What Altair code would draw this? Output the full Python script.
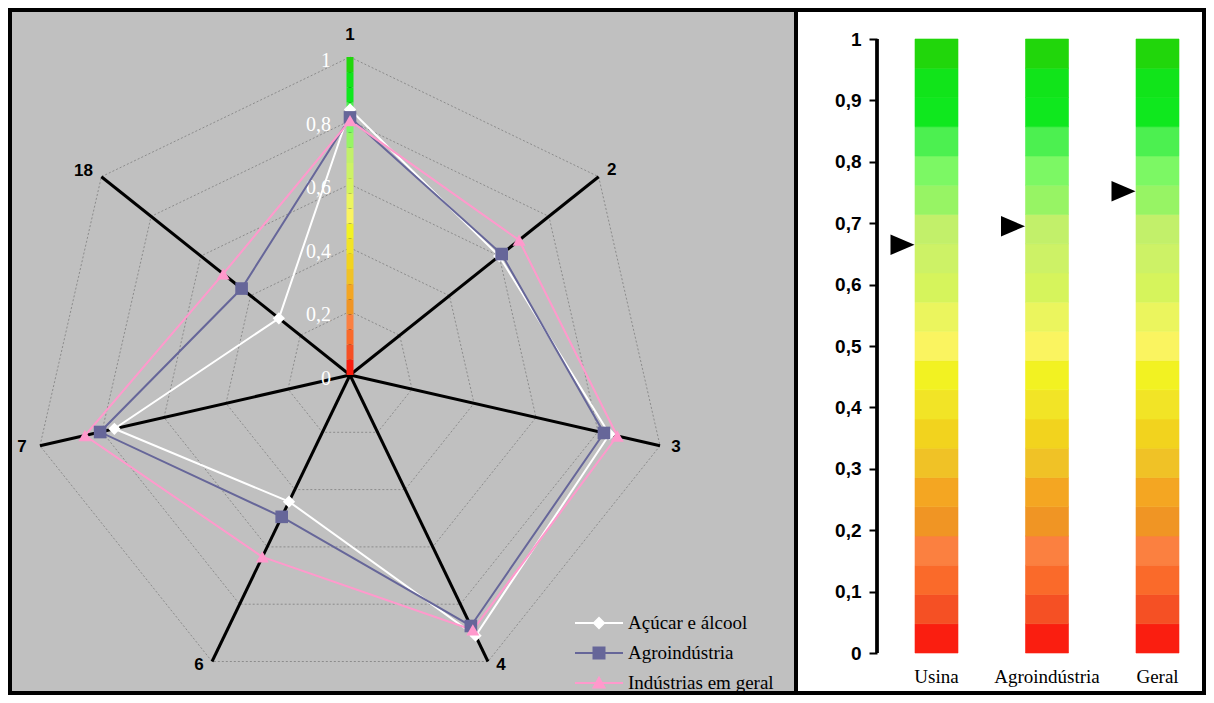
import math
import altair as alt
import pandas as pd

# ---------------- data ----------------
axis_labels = ["1", "2", "3", "4", "6", "7", "18"]
series_names = ["Açúcar e álcool", "Agroindústria", "Indústrias em geral"]
acucar = [0.835, 0.60, 0.837, 0.91, 0.442, 0.76, 0.286]
agro = [0.81, 0.61, 0.819, 0.876, 0.495, 0.806, 0.436]
industrias = [0.80, 0.68, 0.862, 0.89, 0.635, 0.855, 0.51]
series_colors = ["#FFFFFF", "#666699", "#FF99CC"]
ring_values = [0.2, 0.4, 0.6, 0.8, 1.0]
tick_values = [0, 0.2, 0.4, 0.6, 0.8, 1.0]
tick_labels = ["0", "0,2", "0,4", "0,6", "0,8", "1"]

categories = ["Usina", "Agroindústria", "Geral"]
indicator_values = [0.665, 0.695, 0.752]
y_ticks = [0, 0.1, 0.2, 0.3, 0.4, 0.5, 0.6, 0.7, 0.8, 0.9, 1.0]
band_colors = [  # bottom (0) to top (1)
    "#FA1E10", "#F55024", "#FA6A2A", "#FB8040", "#F09524", "#F4A622",
    "#F0C226", "#F2D31E", "#F2E426", "#F2F222", "#FAF460", "#EBF55E",
    "#D6F45C", "#CDF266", "#C2F06A", "#97F464", "#7CF864", "#4CF050",
    "#0FE81E", "#11E41A", "#21D60B",
]

# ---------------- derived tables ----------------
n = len(axis_labels)
angles = [math.pi / 2 - 2 * math.pi * i / n for i in range(n)]
nb = len(band_colors)

rows = []
for s, vals in zip(series_names, [acucar, agro, industrias]):
    for i in range(n + 1):
        k = i % n
        rows.append({"series": s, "order": i, "axis": axis_labels[k], "value": vals[k],
                     "x": vals[k] * math.cos(angles[k]), "y": vals[k] * math.sin(angles[k])})
series_df = pd.DataFrame(rows)
points_df = series_df[series_df["order"] < n]

grid_rows = []
for r in ring_values:
    for i in range(n + 1):
        k = i % n
        grid_rows.append({"ring": r, "order": i,
                          "x": r * math.cos(angles[k]), "y": r * math.sin(angles[k])})
grid_df = pd.DataFrame(grid_rows)

axes_df = pd.DataFrame({
    "label": axis_labels,
    "x0": [0.0] * n, "y0": [0.0] * n,
    "x1": [math.cos(a) for a in angles],
    "y1": [math.sin(a) for a in angles],
})

cbar_df = pd.DataFrame({
    "x": [0.0] * nb,
    "lo": [i / nb for i in range(nb)],
    "hi": [(i + 1) / nb for i in range(nb)],
    "color": band_colors,
})

ticks_df = pd.DataFrame({"x": [0.0] * len(tick_values), "y": tick_values, "t": tick_labels})
legend_df = pd.DataFrame({"series": series_names, "nx": [None] * 3, "ny": [None] * 3})

seg_rows = []
for c in categories:
    for i, col in enumerate(band_colors):
        seg_rows.append({"cat": c, "lo": i / nb, "hi": (i + 1) / nb, "color": col})
seg_df = pd.DataFrame(seg_rows)
ind_df = pd.DataFrame({"cat": categories, "val": indicator_values})

# ---------------- radar panel ----------------
LW, LH = 786, 683
xs = alt.Scale(domain=[-340 / 318, (LW - 340) / 318], nice=False, zero=False)
ys = alt.Scale(domain=[-(LH - 365) / 318, 365 / 318], nice=False, zero=False)
X = lambda f: alt.X(f, scale=xs, axis=None)
Y = lambda f: alt.Y(f, scale=ys, axis=None)
color_scale = alt.Scale(domain=series_names, range=series_colors)

grid = alt.Chart(grid_df).mark_line(color="#8C8C8C", strokeWidth=1, strokeDash=[2, 2]).encode(
    x=X("x:Q"), y=Y("y:Q"), detail="ring:N", order="order:Q")

axes = alt.Chart(axes_df).mark_rule(color="black", strokeWidth=3).encode(
    x=X("x0:Q"), y=Y("y0:Q"), x2="x1:Q", y2="y1:Q")

cbar = alt.Chart(cbar_df).mark_rule(strokeWidth=7).encode(
    x=X("x:Q"), y=Y("lo:Q"), y2="hi:Q", color=alt.Color("color:N", scale=None))

ticks = alt.Chart(ticks_df).mark_text(
    align="right", baseline="middle", dx=-19, dy=4, color="white",
    font="Liberation Serif", fontSize=20).encode(x=X("x:Q"), y=Y("y:Q"), text="t:N")

lines = alt.Chart(series_df).mark_line(strokeWidth=2).encode(
    x=X("x:Q"), y=Y("y:Q"), order="order:Q", detail="series:N",
    color=alt.Color("series:N", scale=color_scale, legend=None))

points = alt.Chart(points_df).mark_point(filled=True, opacity=1).encode(
    x=X("x:Q"), y=Y("y:Q"),
    color=alt.Color("series:N", scale=color_scale, legend=None),
    shape=alt.Shape("series:N", scale=alt.Scale(domain=series_names,
                    range=["diamond", "square", "triangle-up"]), legend=None),
    size=alt.Size("series:N", scale=alt.Scale(domain=series_names, range=[150, 169, 320]),
                  legend=None))

offsets = {"1": (0, -22), "2": (13, -7), "3": (16, 1), "4": (13, 3),
           "6": (-13, 3), "7": (-18, 1), "18": (-18, -6)}
label_layers = []
for lab in axis_labels:
    dx, dy = offsets[lab]
    label_layers.append(
        alt.Chart(axes_df).transform_filter(alt.datum.label == lab).mark_text(
            dx=dx, dy=dy, fontSize=17, fontWeight="bold", font="Liberation Sans",
            color="black").encode(x=X("x1:Q"), y=Y("y1:Q"), text="label:N"))

line_part = "M-2.4,-0.1H2.4V0.1H-2.4Z "
legend_paths = [
    line_part + "M0,-0.65L0.65,0L0,0.65L-0.65,0Z",
    line_part + "M-0.65,-0.65H0.65V0.65H-0.65Z",
    line_part + "M0,-0.72L0.72,0.56H-0.72Z",
]
leg = alt.Legend(orient="none", legendX=579, legendY=603, title=None, padding=0,
                 labelFont="Liberation Serif", labelFontSize=19, labelColor="black",
                 labelOffset=19, rowPadding=10, symbolSize=400, symbolStrokeWidth=0,
                 symbolOpacity=1)
legend_layer = alt.Chart(legend_df).mark_point(filled=True, opacity=1, size=400).encode(
    x=X("nx:Q"), y=Y("ny:Q"),
    color=alt.Color("series:N", scale=color_scale, legend=leg),
    shape=alt.Shape("series:N", scale=alt.Scale(domain=series_names, range=legend_paths),
                    legend=leg))

radar = alt.layer(grid, axes, cbar, ticks, lines, points, *label_layers, legend_layer).resolve_scale(
    color="independent", shape="independent", size="independent"
).properties(width=LW, height=LH,
             view=alt.ViewBackground(fill="#C0C0C0", stroke="black", strokeWidth=4))

# ---------------- bar panel ----------------
RW, RH = 408, 683
xb = alt.Scale(domain=categories, paddingInner=0.6109, paddingOuter=0.6516, align=0.8264)
yb = alt.Scale(domain=[-40 / 614, 1 + 29 / 614], nice=False, zero=False)

x_axis = alt.Axis(orient="bottom", offset=-30, ticks=False, domain=False, labelAngle=0,
                  labelFont="Liberation Serif", labelFontSize=19, labelColor="black",
                  labelPadding=4, title=None, grid=False)
y_axis = alt.Axis(values=y_ticks, offset=-81, domain=False, grid=False, tickColor="black",
                  tickWidth=2, tickSize=8, labelFont="Liberation Sans", labelFontWeight="bold",
                  labelFontSize=19, labelColor="black", labelPadding=8, title=None,
                  labelExpr="replace(format(datum.value, '.1~f'), '.', ',')")

bars = alt.Chart(seg_df).mark_bar(strokeWidth=0.6).encode(
    x=alt.X("cat:N", sort=categories, scale=xb, axis=x_axis),
    y=alt.Y("lo:Q", scale=yb, axis=y_axis), y2="hi:Q",
    color=alt.Color("color:N", scale=None), stroke=alt.Stroke("color:N", scale=None))

tri = alt.Chart(ind_df).mark_point(shape="M-1,-0.85L1,0L-1,0.85Z", filled=True, color="black",
                                   opacity=1, size=576, xOffset=-34).encode(
    x=alt.X("cat:N", sort=categories, scale=xb, axis=x_axis),
    y=alt.Y("val:Q", scale=yb, axis=y_axis))

yline = alt.Chart(ind_df).mark_rule(color="black", strokeWidth=3).encode(
    x=alt.value(81), y=alt.datum(min(y_ticks)), y2=alt.datum(max(y_ticks)))

right = alt.layer(bars, tri, yline).properties(
    width=RW, height=RH,
    view=alt.ViewBackground(fill="white", stroke="black", strokeWidth=4))

chart = alt.hconcat(radar, right, spacing=0, bounds="flush").properties(
    padding=0, background="white")

chart.save("out.html", embed_options={"renderer": "svg", "actions": False})
